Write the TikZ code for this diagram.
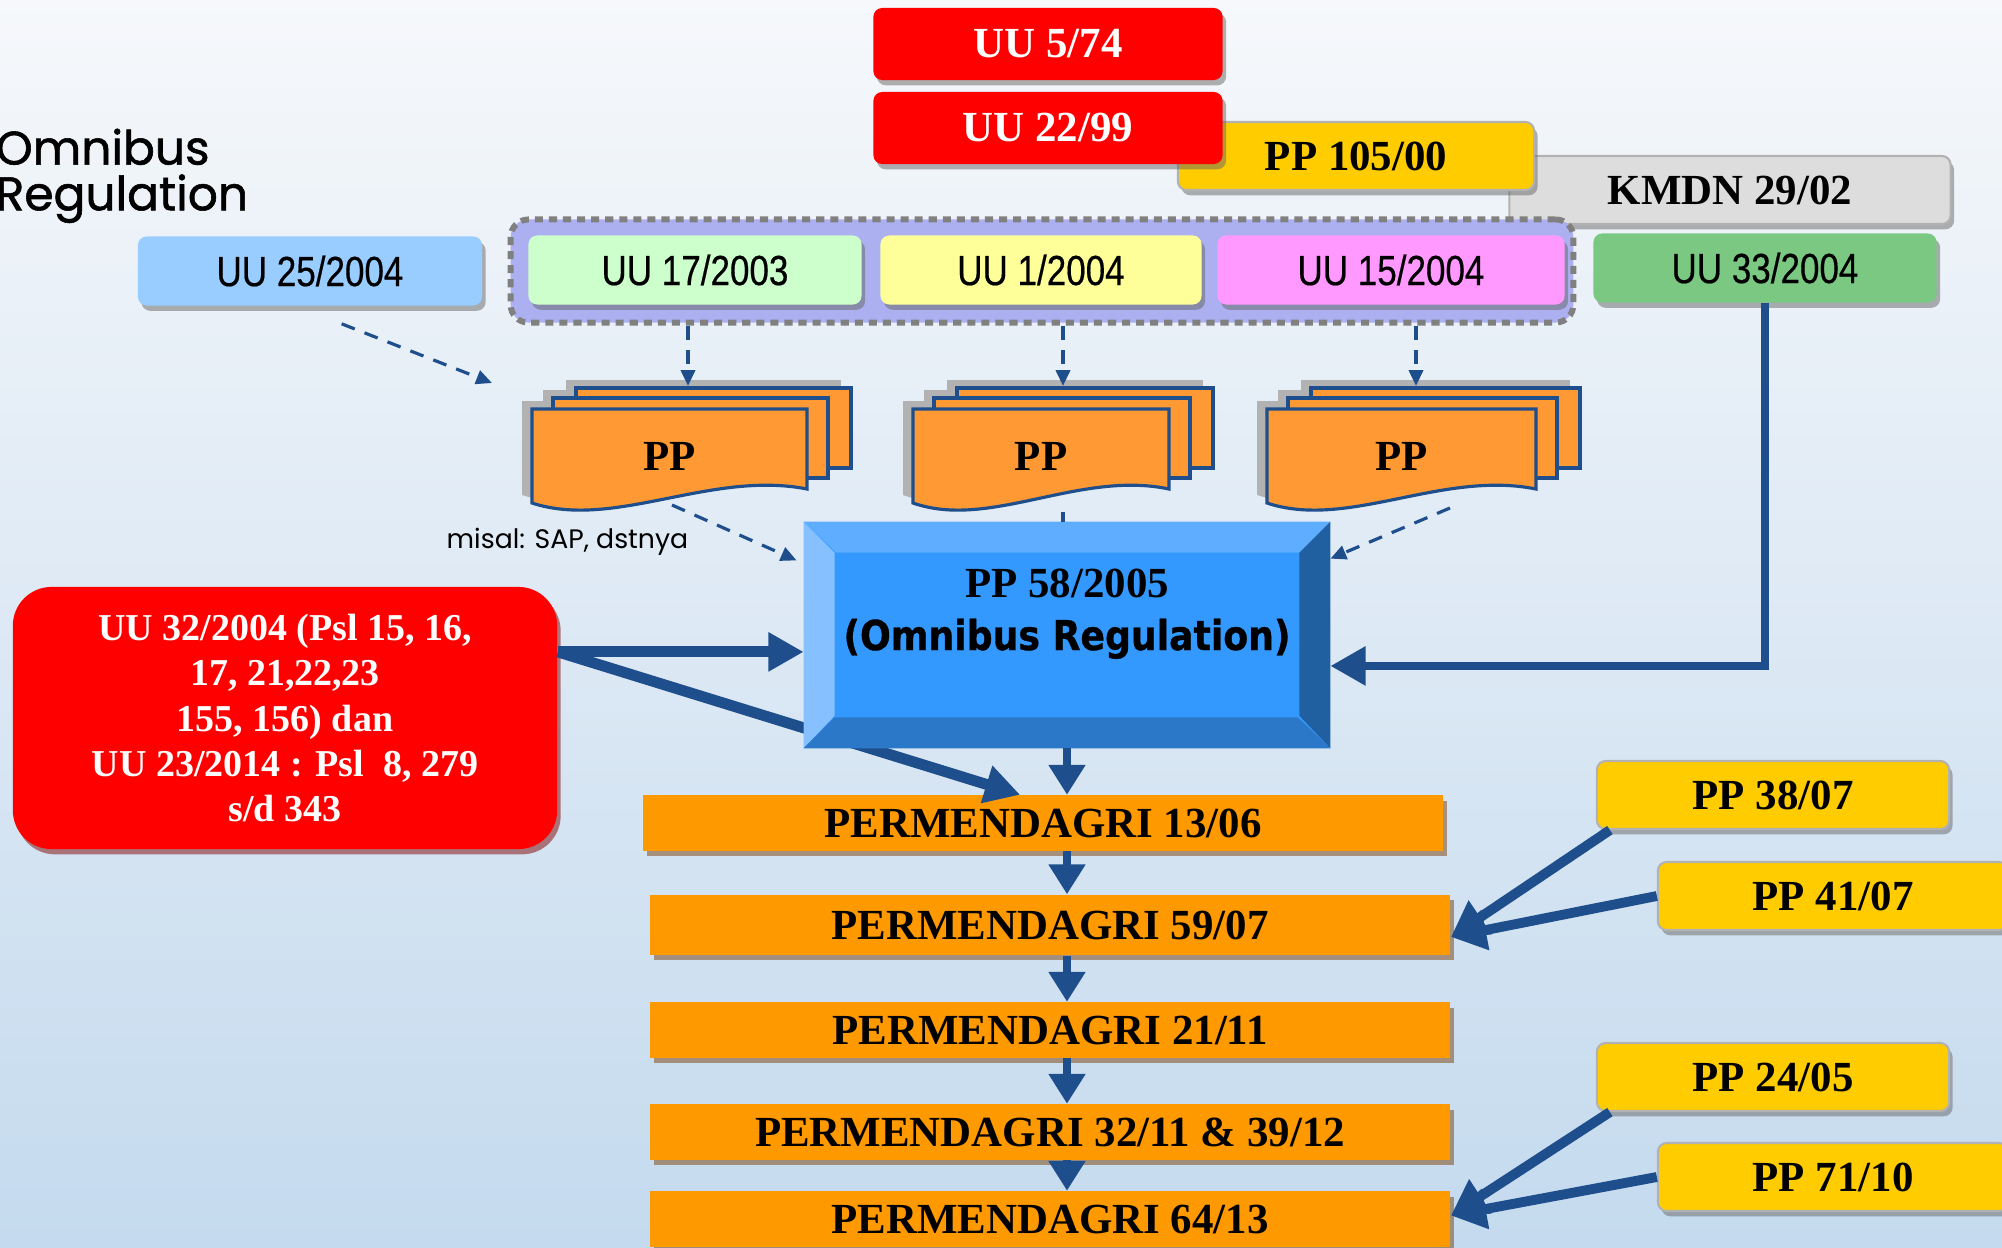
\documentclass[tikz,border=0pt]{standalone}
\usepackage{fontspec}
\setmainfont{Liberation Serif}
\newfontfamily\narrowsans[FakeStretch=0.83,FakeBold=0.4]{Liberation Sans}
\newfontfamily\roundsans{Poppins}
\newfontfamily\roundsansmed[FakeBold=1.2]{Poppins}
\newfontfamily\heavysans[FakeStretch=0.88,FakeBold=0.8]{DejaVu Sans}
\usetikzlibrary{arrows.meta,shadows}

\definecolor{arrowblue}{RGB}{31,78,140}
\definecolor{lawred}{RGB}{255,0,0}
\definecolor{ppyellow}{RGB}{255,204,0}
\definecolor{kmdngray}{RGB}{221,221,221}
\definecolor{uublue}{RGB}{153,204,255}
\definecolor{uugreen}{RGB}{204,255,204}
\definecolor{uuyellow}{RGB}{255,255,153}
\definecolor{uupink}{RGB}{255,153,255}
\definecolor{uudkgreen}{RGB}{122,200,130}
\definecolor{grplav}{RGB}{172,176,240}
\definecolor{pageorange}{RGB}{255,153,51}
\definecolor{pmdorange}{RGB}{255,153,0}
\definecolor{faceblue}{RGB}{51,153,255}
\definecolor{bevtop}{RGB}{95,173,255}
\definecolor{bevleft}{RGB}{135,192,255}
\definecolor{bevright}{RGB}{32,96,160}
\definecolor{bevbot}{RGB}{43,120,200}
\definecolor{bgtop}{RGB}{246,248,251}
\definecolor{bgbot}{RGB}{196,218,238}

\tikzset{
  boxshadow/.style={drop shadow={shadow xshift=1pt,shadow yshift=-1.5pt,fill=black!60,opacity=.5}},
  timesbold/.style={font=\fontsize{12.2}{14}\selectfont\bfseries},
  lawbox/.style={boxshadow,rounded corners=2.5pt,inner sep=0pt,fill=lawred,text=white,timesbold,
    minimum width=3.49cm,minimum height=0.72cm},
  ppbox/.style={boxshadow,rounded corners=2.5pt,inner sep=0pt,fill=ppyellow,draw=black!30,line width=.6pt,
    timesbold,minimum height=0.68cm},
  uubox/.style={boxshadow,rounded corners=2.5pt,inner sep=0pt,font=\fontsize{12}{14}\selectfont\narrowsans,
    minimum height=0.69cm},
  pmdbox/.style={inner sep=0pt,fill=pmdorange,timesbold,minimum width=8cm,minimum height=0.55cm,
    drop shadow={shadow xshift=1.2pt,shadow yshift=-1.5pt,fill=brown!70!black,opacity=.6}},
  pagefill/.style={fill=pageorange,draw=arrowblue,line width=0.9pt},
  pageshade/.style={fill=black!30},
  bigarrow/.style={draw=arrowblue,line width=3.1pt,-{Triangle[length=10pt,width=10.5pt]}},
  midarrow/.style={draw=arrowblue,line width=2.5pt,-{Triangle[length=8.5pt,width=10pt]}},
  sidearrow/.style={draw=arrowblue,line width=2.8pt,-{Triangle[length=10pt,width=11pt]}},
  dasharrow/.style={draw=arrowblue,line width=0.9pt,dash pattern=on 4pt off 3pt,-{Triangle[length=4.5pt,width=4pt]}},
  dashline/.style={draw=arrowblue,line width=0.9pt,dash pattern=on 4pt off 3pt}
}

\begin{document}
\begin{tikzpicture}[x=0.01cm,y=-0.01cm]
  \useasboundingbox (0,0) rectangle (2002,1248);
  \shade[top color=bgtop,bottom color=bgbot] (0,0) rectangle (2002,1248);

  % laws on top
  \node[ppbox,fill=kmdngray,minimum width=4.41cm] (kmdn) at (1730,190) {KMDN 29/02};
  \node[ppbox,minimum width=3.56cm] (pp105) at (1356,156) {PP 105/00};
  \node[lawbox] (uu2299) at (1048,128) {UU 22/99};
  \node[lawbox] (uu574) at (1048,44) {UU 5/74};

  \node[font=\roundsansmed\fontsize{13.4}{13}\selectfont,align=left,anchor=north west,inner sep=0pt]
    (title) at (-5,128) {Omnibus\\Regulation};

  % UU row
  \node[rounded corners=5pt,fill=grplav,draw=gray,line width=1.7pt,dash pattern=on 2.3pt off 1.7pt,
    minimum width=10.62cm,minimum height=1.03cm] (grp) at (1042,271) {};
  \node[uubox,fill=uublue,minimum width=3.44cm] (uu25) at (310,271) {UU 25/2004};
  \node[uubox,fill=uugreen,minimum width=3.33cm] (uu17) at (695,270) {UU 17/2003};
  \node[uubox,fill=uuyellow,minimum width=3.21cm] (uu1) at (1041,270) {UU 1/2004};
  \node[uubox,fill=uupink,minimum width=3.47cm] (uu15) at (1391,270) {UU 15/2004};
  \node[uubox,fill=uudkgreen,minimum width=3.43cm] (uu33) at (1765,268) {UU 33/2004};

  % PP stacks
  \foreach \x/\w/\n in {532/275/ppa,913/256/ppb,1267/269/ppc}{
    \fill[pageshade] ({\x+34},380) rectangle ({\x+\w+34},460);
    \fill[pageshade] ({\x+11},390) rectangle ({\x+\w+11},470);
    \fill[pageshade,shift={(-10,-8)}] (\x,409) -- ({\x+\w},409) -- ({\x+\w},489)
      .. controls ({\x+0.65*\w},470) and ({\x+0.3*\w},530) .. (\x,503) -- cycle;
    \filldraw[pagefill] ({\x+44},388) rectangle ({\x+\w+44},468);
    \filldraw[pagefill] ({\x+21},398) rectangle ({\x+\w+21},478);
    \filldraw[pagefill] (\x,409) -- ({\x+\w},409) -- ({\x+\w},489)
      .. controls ({\x+0.65*\w},470) and ({\x+0.3*\w},530) .. (\x,503) -- cycle;
    \node[timesbold] (\n) at ({\x+\w/2},456) {PP};
  }
  \coordinate (ppa-top) at (688,386);
  \coordinate (ppb-top) at (1063,386);
  \coordinate (ppc-top) at (1416,386);
  \coordinate (ppa-in) at (492,383);
  \coordinate (ppa-bot) at (672,505);
  \coordinate (ppb-bot) at (1063,512);
  \coordinate (ppc-bot) at (1450,508);

  \draw[dasharrow] (grp.south -| ppa-top) -- (ppa-top);
  \draw[dasharrow] (grp.south -| ppb-top) -- (ppb-top);
  \draw[dasharrow] (grp.south -| ppc-top) -- (ppc-top);
  \draw[dasharrow] ([xshift=9pt,yshift=-5pt]uu25.south) -- (ppa-in);

  \node[font=\roundsans\fontsize{7.6}{9}\selectfont,anchor=base west,inner sep=0pt]
    (misal) at (446,548) {misal: SAP, dstnya};

  % PERMENDAGRI chain
  \node[pmdbox] (pmd1) at (1043,823) {PERMENDAGRI 13/06};
  \node[pmdbox,minimum height=0.6cm] (pmd2) at (1050,925) {PERMENDAGRI 59/07};
  \node[pmdbox] (pmd3) at (1050,1030) {PERMENDAGRI 21/11};
  \node[pmdbox] (pmd4) at (1050,1132) {PERMENDAGRI 32/11 \& 39/12};
  \node[pmdbox] (pmd5) at (1050,1219) {PERMENDAGRI 64/13};

  \node[rounded corners=11pt,inner sep=0pt,fill=lawred,text=white,align=center,
    font=\fontsize{10.8}{12.8}\selectfont\bfseries,minimum width=5.44cm,minimum height=2.62cm,
    drop shadow={shadow xshift=1pt,shadow yshift=-1.5pt,fill=red!50!black,opacity=.5}]
    (uu32) at (285,718) {UU 32/2004 (Psl 15, 16,\\17, 21,22,23\\155, 156) dan\\UU 23/2014 : Psl~~8, 279\\s/d 343};
  \coordinate (uu32-out) at ([yshift=18.8pt]uu32.east);
  \draw[bigarrow] (uu32-out) -- ([xshift=-6.5pt]pmd1.north);

  % PP 58/2005
  \node[fill=faceblue,inner sep=0pt,minimum width=5.25cm,minimum height=2.25cm] (pp58) at (1067,635) {};
  \fill[bevtop] (pp58.north west) -- (pp58.north east) -- ++(-31,31) -- ++(-463,0) -- cycle;
  \fill[bevleft] (pp58.north west) -- ++(31,31) -- ++(0,163) -- (pp58.south west) -- cycle;
  \fill[bevright] (pp58.north east) -- ++(-31,31) -- ++(0,163) -- (pp58.south east) -- cycle;
  \fill[bevbot] (pp58.south west) -- ++(31,-31) -- ++(463,0) -- (pp58.south east) -- cycle;
  \node[timesbold,anchor=base] (pp58a) at (1067,597) {PP 58/2005};
  \node[font=\heavysans\fontsize{11.7}{14}\selectfont\bfseries,anchor=base] (pp58b) at (1067,650) {(Omnibus Regulation)};

  \draw[dasharrow] (ppa-bot) -- ([xshift=-2pt,yshift=-11pt]pp58.north west);
  \draw[dasharrow] (ppc-bot) -- ([yshift=-10.5pt]pp58.north east);
  \draw[dashline] (ppb-bot) -- (ppb-bot |- pp58.north);

  \draw[bigarrow] (uu32-out) -- (uu32-out -| pp58.west);
  \draw[bigarrow,line width=2.5pt] (uu33.south) |- ([yshift=-8.8pt]pp58.east);
  \draw[midarrow] (pp58.south) -- (pp58.south |- pmd1.north);
  \foreach \a/\b in {pmd1/pmd2,pmd2/pmd3,pmd3/pmd4,pmd4/pmd5}
    \draw[midarrow] (\a.south -| pp58.south) -- (\b.north -| pp58.south);

  % PP on the right
  \node[ppbox,minimum width=3.52cm] (pp38) at (1773,795) {PP 38/07};
  \node[ppbox,minimum width=3.5cm] (pp41) at (1833,896) {PP 41/07};
  \node[ppbox,minimum width=3.52cm] (pp24) at (1773,1077) {PP 24/05};
  \node[ppbox,minimum width=3.5cm] (pp71) at (1833,1177) {PP 71/10};
  \draw[sidearrow] ([xshift=4pt]pp38.south west) -- ([yshift=-3.4pt]pmd2.east);
  \draw[sidearrow] (pp41.west) -- ([yshift=-3.4pt]pmd2.east);
  \draw[sidearrow] ([xshift=4pt]pp24.south west) -- ([yshift=1pt]pmd5.east);
  \draw[sidearrow] (pp71.west) -- ([yshift=1pt]pmd5.east);
\end{tikzpicture}
\end{document}
